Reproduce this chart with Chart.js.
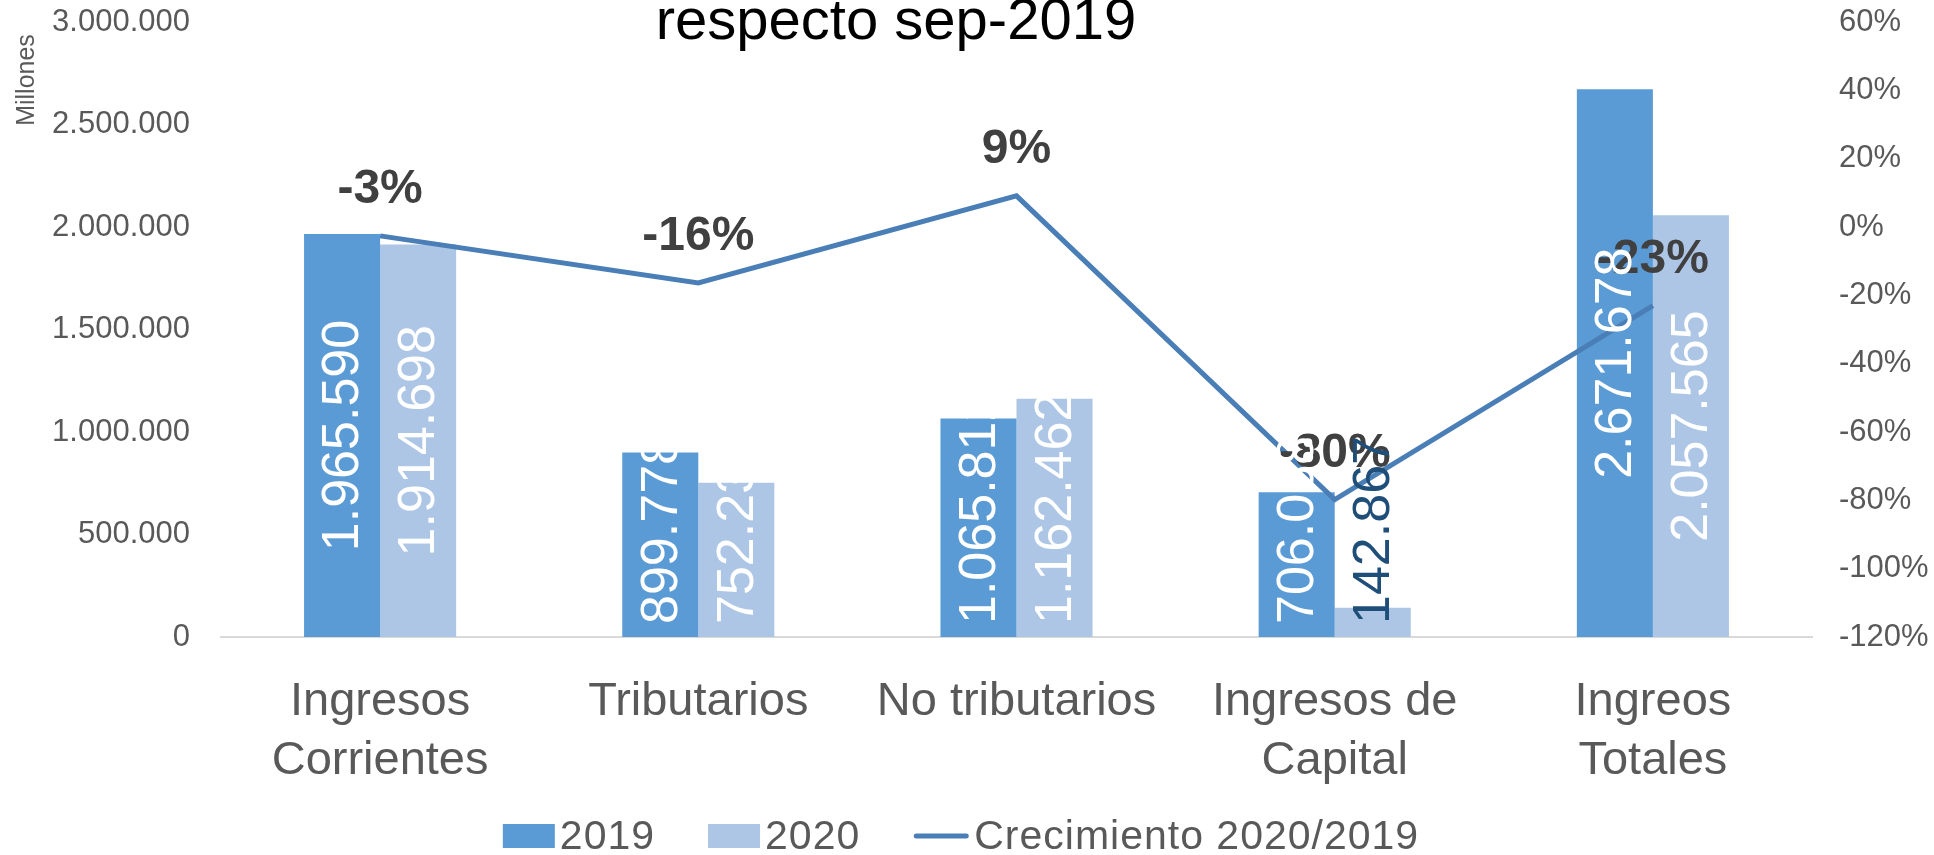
<!DOCTYPE html>
<html><head><meta charset="utf-8">
<script src="https://cdn.jsdelivr.net/npm/chart.js@4.4.1/dist/chart.umd.min.js"></script>
<style>html,body{margin:0;padding:0;background:#fff;}#wrap{width:1934px;height:855px;}</style>
</head><body><div id="wrap"><canvas id="c" width="1934" height="855"></canvas></div>
<script>
const categories = [['Ingresos','Corrientes'],['Tributarios'],['No tributarios'],['Ingresos de','Capital'],['Ingreos','Totales']];
const values2019 = [1965590, 899778, 1065812, 706088, 2671678];
const values2020 = [1914698, 752236, 1162462, 142867, 2057565];
const growth = [-0.026, -0.164, 0.091, -0.798, -0.230];
const growthLabels = ['-3%', '-16%', '9%', '-80%', '-23%'];
const leftTickLabels = ['0','500.000','1.000.000','1.500.000','2.000.000','2.500.000','3.000.000'];
const rightTickLabels = ['-120%','-100%','-80%','-60%','-40%','-20%','0%','20%','40%','60%'];
const seriesNames = ['2019','2020','Crecimiento 2020/2019'];
const titleText = 'respecto sep-2019';
const axisUnitText = 'Millones';

const FONT = '"Liberation Sans", Arial, sans-serif';
const C2019 = '#5b9bd5', C2020 = '#adc6e6', CLINE = '#4a7eb7';

function fmtThousands(v){ return String(v).replace(/\B(?=(\d{3})+(?!\d))/g,'.'); }

const overlay = {
  id:'overlay',
  afterDatasetsDraw(chart){
    const ctx = chart.ctx;
    const lm = chart.getDatasetMeta(0);
    ctx.save();
    ctx.font = 'bold 48px ' + FONT;
    ctx.fillStyle = '#404040';
    ctx.textAlign = 'center'; ctx.textBaseline = 'middle';
    lm.data.forEach((pt,i)=>{ ctx.fillText(growthLabels[i], pt.x, pt.y - 46); });
    ctx.restore();
    [1,2].forEach(di=>{
      const meta = chart.getDatasetMeta(di);
      const ds = chart.data.datasets[di];
      meta.data.forEach((bar,i)=>{
        const txt = fmtThousands(ds.data[i]);
        ctx.save();
        ctx.font = '52px ' + FONT;
        const w = ctx.measureText(txt).width;
        let cy = (bar.y + bar.base)/2;
        const lim = bar.base - 13;
        if (cy + w/2 > lim) cy = lim - w/2;
        ctx.translate(bar.x + 2, cy);
        ctx.rotate(-Math.PI/2);
        ctx.fillStyle = (ds.labelColors && ds.labelColors[i]) || '#ffffff';
        ctx.textAlign = 'center'; ctx.textBaseline = 'middle';
        ctx.fillText(txt, 0, 0);
        ctx.restore();
      });
    });
  },
  afterDraw(chart){
    const ctx = chart.ctx;
    ctx.save();
    ctx.font = '58px ' + FONT;
    ctx.fillStyle = '#000000';
    ctx.textAlign = 'center'; ctx.textBaseline = 'alphabetic';
    ctx.fillText(titleText, 896, 39);
    ctx.restore();
    ctx.save();
    ctx.translate(27, 80);
    ctx.rotate(-Math.PI/2);
    ctx.font = '25px ' + FONT;
    ctx.fillStyle = '#595959';
    ctx.textAlign = 'center'; ctx.textBaseline = 'middle';
    ctx.fillText(axisUnitText, 0, 0);
    ctx.restore();
    ctx.save();
    ctx.font = '41px ' + FONT;
    ctx.letterSpacing = '1px';
    const boxW = 52, boxH = 24, gapBox = 5, gapItem = 53, lineW = 56, gapLine = 5;
    const items = [
      {type:'box', color:C2019, text:seriesNames[0]},
      {type:'box', color:C2020, text:seriesNames[1]},
      {type:'line', color:CLINE, text:seriesNames[2]}
    ];
    let total = 0;
    items.forEach((it,k)=>{ it.tw = ctx.measureText(it.text).width; it.w = (it.type==='box'?boxW+gapBox:lineW+gapLine) + it.tw; total += it.w + (k? gapItem:0); });
    let x = chart.width/2 - total/2 - 6;
    const cy = 836;
    ctx.textBaseline = 'middle'; ctx.textAlign = 'left';
    items.forEach(it=>{
      if (it.type==='box'){
        ctx.fillStyle = it.color; ctx.fillRect(x, cy-boxH/2, boxW, boxH);
        x += boxW + gapBox;
      } else {
        ctx.strokeStyle = it.color; ctx.lineWidth = 5; ctx.lineCap = 'round';
        ctx.beginPath(); ctx.moveTo(x+3, cy); ctx.lineTo(x+lineW-3, cy); ctx.stroke();
        x += lineW + gapLine;
      }
      ctx.fillStyle = '#595959';
      ctx.fillText(it.text, x, cy+2);
      x += it.tw + gapItem;
    });
    ctx.restore();
  }
};

function noPad(s){ s.paddingTop = 0; s.paddingBottom = 0; }

new Chart(document.getElementById('c'), {
  data: {
    labels: categories,
    datasets: [
      { type:'line', label:seriesNames[2], data:growth, yAxisID:'y1', borderColor:CLINE, borderWidth:5, pointRadius:0, tension:0, fill:false },
      { type:'bar', label:seriesNames[0], data:values2019, yAxisID:'y', backgroundColor:C2019, borderWidth:0, barPercentage:1, categoryPercentage:0.478 },
      { type:'bar', label:seriesNames[1], data:values2020, yAxisID:'y', backgroundColor:C2020, borderWidth:0, barPercentage:1, categoryPercentage:0.478,
        labelColors:[null,null,null,'#1f4e79',null] }
    ]
  },
  options: {
    responsive:false, animation:false, devicePixelRatio:1,
    layout:{ padding:{ top:22, bottom:0, left:0, right:0 } },
    plugins:{ legend:{display:false}, title:{display:false}, tooltip:{enabled:false} },
    scales:{
      x:{
        grid:{display:false, drawTicks:false},
        border:{display:true, color:'#d9d9d9', width:2},
        ticks:{ font:{family:FONT, size:47, lineHeight:1.27}, color:'#595959', padding:35, maxRotation:0, autoSkip:false },
        afterFit(s){ s.height = 218; }
      },
      y:{
        position:'left', min:0, max:3000000,
        grid:{display:false, drawTicks:false}, border:{display:false},
        ticks:{ stepSize:500000, font:{family:FONT, size:31}, color:'#595959', padding:31,
          callback:(v,i)=>leftTickLabels[i] },
        afterFit(s){ s.width = 221; noPad(s); }
      },
      y1:{
        position:'right', min:-1.2, max:0.6,
        grid:{display:false, drawTicks:false}, border:{display:false},
        ticks:{ stepSize:0.2, font:{family:FONT, size:31}, color:'#595959', padding:27,
          callback:(v,i)=>rightTickLabels[i] },
        afterFit(s){ s.width = 122; noPad(s); }
      }
    }
  },
  plugins:[overlay]
});
</script></body></html>
